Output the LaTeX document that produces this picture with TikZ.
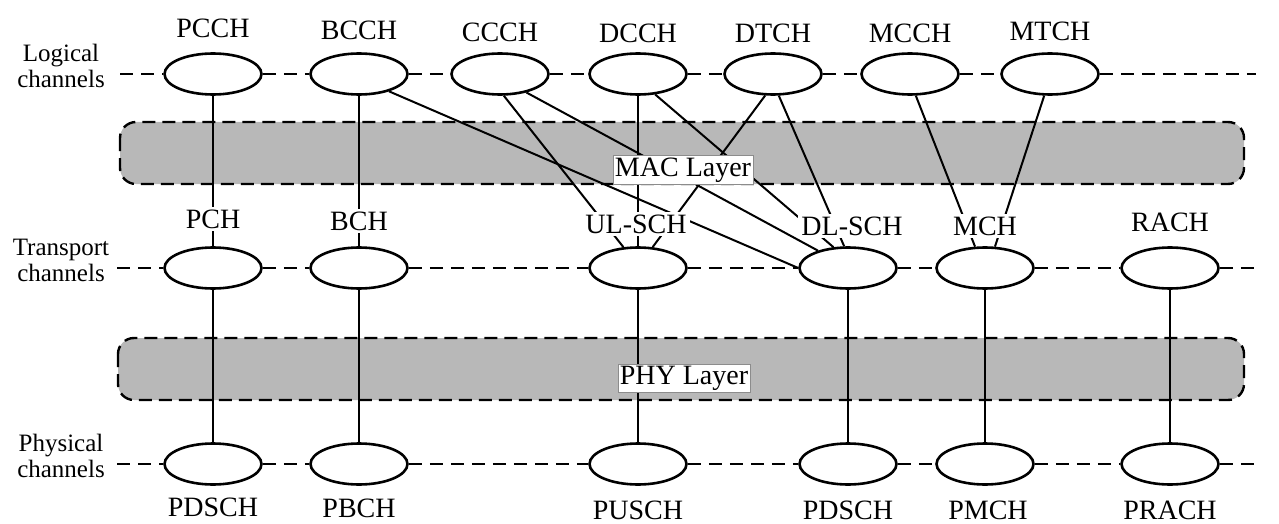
\documentclass[tikz,border=0pt]{standalone}
\usepackage{fontspec}
\setmainfont{Liberation Serif}
\usetikzlibrary{shapes.geometric}
\begin{document}
\begin{tikzpicture}[x=1pt,y=-1pt,
  chan/.style={ellipse, draw, line width=2.6pt, minimum width=97pt, minimum height=41pt, inner sep=0pt},
  lab/.style={font=\fontsize{28}{30}\selectfont, fill=white, inner sep=3pt},
  side/.style={font=\fontsize{25}{26}\selectfont, align=center},
  link/.style={line width=2pt},
  hdash/.style={line width=2.4pt, dash pattern=on 13pt off 8pt},
  band/.style={draw, line width=2.4pt, dash pattern=on 13pt off 7pt, rounded corners=16pt, fill=black!28},
  layerlab/.style={font=\fontsize{28}{30}\selectfont, fill=white, draw=black!45, line width=0.6pt, inner sep=2pt}]
\useasboundingbox (0,0) rectangle (1279,524);

% layer bands
\draw[band] (120,122) rectangle (1244,184);
\draw[band] (118,338) rectangle (1244,400);

% side texts
\node[side] (tlog) at (61,66) {Logical\\channels};
\node[side] (ttra) at (61,260) {Transport\\channels};
\node[side] (tphy) at (61,456) {Physical\\channels};

% logical channels
\node[chan] (pcch) at (213,74) {};
\node[chan] (bcch) at (359,74) {};
\node[chan] (ccch) at (500,74) {};
\node[chan] (dcch) at (638,74) {};
\node[chan] (dtch) at (773,74) {};
\node[chan] (mcch) at (910,74) {};
\node[chan] (mtch) at (1050,74) {};
\coordinate (l0) at (120,74);
\coordinate (l1) at (1256,74);

% transport channels
\node[chan] (pch) at (213,268) {};
\node[chan] (bch) at (359,268) {};
\node[chan] (ulsch) at (638,268) {};
\node[chan] (dlsch) at (848,268) {};
\node[chan] (mch) at (985,268) {};
\node[chan] (rach) at (1170,268) {};
\coordinate (t0) at (117,268);
\coordinate (t1) at (1258,268);

% physical channels
\node[chan] (pdscha) at (213,464) {};
\node[chan] (pbch) at (359,464) {};
\node[chan] (pusch) at (638,464) {};
\node[chan] (pdschb) at (848,464) {};
\node[chan] (pmch) at (985,464) {};
\node[chan] (prach) at (1170,464) {};
\coordinate (p0) at (117,464);
\coordinate (p1) at (1258,464);

% dashed row lines
\draw[hdash] (l0) -- (pcch) (pcch) -- (bcch) (bcch) -- (ccch) (ccch) -- (dcch)
  (dcch) -- (dtch) (dtch) -- (mcch) (mcch) -- (mtch) (mtch) -- (l1);
\draw[hdash] (t0) -- (pch) (pch) -- (bch) (bch) -- (ulsch) (ulsch) -- (dlsch)
  (dlsch) -- (mch) (mch) -- (rach) (rach) -- (t1);
\draw[hdash] (p0) -- (pdscha) (pdscha) -- (pbch) (pbch) -- (pusch) (pusch) -- (pdschb)
  (pdschb) -- (pmch) (pmch) -- (prach) (prach) -- (p1);

% logical -> transport
\draw[link] (pcch) -- (pch);
\draw[link] (bcch) -- (bch);
\draw[link] (bcch.-30) -- (dlsch.west);
\draw[link] (ccch.-80) -- (ulsch.125);
\draw[link] (ccch.-35) -- (dlsch.150);
\draw[link] (dcch) -- (ulsch);
\draw[link] (dcch.-50) -- (dlsch.125);
\draw[link] (dtch.-110) -- (ulsch.55);
\draw[link] (dtch.-75) -- (dlsch.100);
\draw[link] (mcch.-75) -- (mch.115);
\draw[link] (mtch.-105) -- (mch.65);

% transport -> physical
\draw[link] (pch) -- (pdscha);
\draw[link] (bch) -- (pbch);
\draw[link] (ulsch) -- (pusch);
\draw[link] (dlsch) -- (pdschb);
\draw[link] (mch) -- (pmch);
\draw[link] (rach) -- (prach);

% layer labels
\node[layerlab] (mac) at (683,170) {MAC Layer};
\node[layerlab] (phy) at (684,378) {PHY Layer};

% channel labels
\node[lab] (lpcch) at (213,28) {PCCH};
\node[lab] (lbcch) at (359,30) {BCCH};
\node[lab] (lccch) at (500,32) {CCCH};
\node[lab] (ldcch) at (638,33) {DCCH};
\node[lab] (ldtch) at (773,33) {DTCH};
\node[lab] (lmcch) at (910,33) {MCCH};
\node[lab] (lmtch) at (1050,31) {MTCH};

\node[lab] (lpch) at (213,219) {PCH};
\node[lab] (lbch) at (359,221) {BCH};
\node[lab] (lulsch) at (636,224) {UL-SCH};
\node[lab] (ldlsch) at (852,226) {DL-SCH};
\node[lab] (lmch) at (985,226) {MCH};
\node[lab] (lrach) at (1170,222) {RACH};

\node[lab] (lpdscha) at (213,507) {PDSCH};
\node[lab] (lpbch) at (359,508) {PBCH};
\node[lab] (lpusch) at (638,510) {PUSCH};
\node[lab] (lpdschb) at (848,510) {PDSCH};
\node[lab] (lpmch) at (988,510) {PMCH};
\node[lab] (lprach) at (1170,510) {PRACH};
\end{tikzpicture}
\end{document}
